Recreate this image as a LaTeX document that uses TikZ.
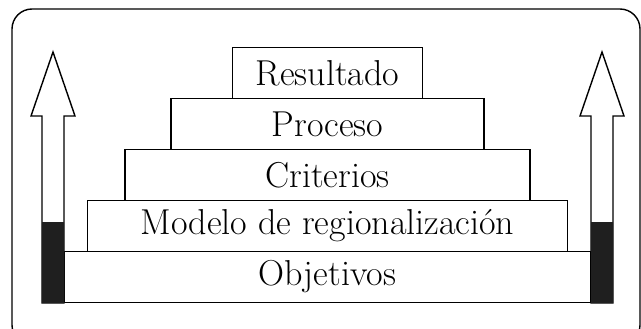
\documentclass[tikz,border=0pt]{standalone}
\usetikzlibrary{positioning}

\tikzset{
  step box/.style={draw, line width=0.8pt, outer sep=0pt, inner sep=0pt,
    minimum height=1.02cm, font=\fontsize{20.5}{22}\selectfont},
  up arrow/.style={draw, line width=0.8pt, fill=white, line join=miter},
}

\begin{document}
\begin{tikzpicture}[x=0.02cm, y=-0.02cm]
 \useasboundingbox (0,0) rectangle (641,328);
 % outer frame
 \draw[line width=0.8pt, rounded corners=0.4cm] (12,9) rectangle (640,345);

 % steps
 \node[step box, minimum width=10.54cm] (obj) at (327.5,277) {Objetivos};
 \node[step box, minimum width=9.6cm, above=0pt of obj] (modelo) {Modelo de regionalización};
 \node[step box, minimum width=8.1cm, above=0pt of modelo] (crit) {Criterios};
 \node[step box, minimum width=6.26cm, above=0pt of crit] (proc) {Proceso};
 \node[step box, minimum width=3.8cm, above=0pt of proc] (res) {Resultado};

 % arrows at both sides
 \foreach \xl/\xr in {42/64, 591/613} {
  \draw[up arrow] (\xl,303) -- (\xl,116) -- (\xl-11,116) -- ({(\xl+\xr)/2},52)
    -- (\xr+11,116) -- (\xr,116) -- (\xr,303) -- cycle;
  \fill[black!88] (\xl,222) rectangle (\xr,303);
 }
\end{tikzpicture}
\end{document}
